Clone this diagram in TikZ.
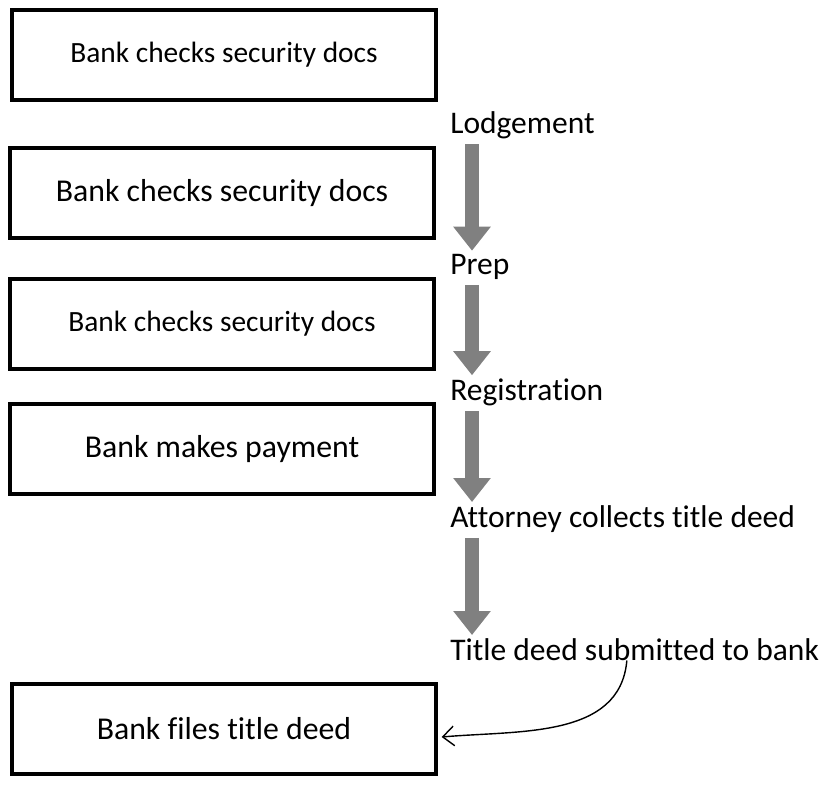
\documentclass[tikz,border=0pt]{standalone}
\usepackage{fontspec}
\setmainfont{Carlito}[Ligatures={NoCommon}]
\usetikzlibrary{positioning,arrows.meta,calc}
\definecolor{bgray}{RGB}{128,128,128}
\tikzset{
  bbox/.style={draw,line width=2.3pt,minimum width=10.6cm,minimum height=2.25cm,inner sep=0pt,font=\fontsize{#1}{26}\selectfont},
  lbl/.style={anchor=base west,inner sep=0pt,font=\fontsize{22.4}{26}\selectfont},
  flow/.style={bgray,line width=0.35cm,-{Triangle[width=0.9cm,length=0.6cm]},shorten <=4pt,shorten >=2pt}
}
\begin{document}
\begin{tikzpicture}[x=0.025cm,y=-0.025cm]
    \useasboundingbox (0,0) rectangle (827,789);
    % bank side
    \node[bbox=20.9] (chk1) at (224,55) {Bank checks security docs};
    \node[bbox=22.6] (chk2) at (222,193) {Bank checks security docs};
    \node[bbox=20.9] (chk3) at (222,324) {Bank checks security docs};
    \node[bbox=22.6] (pay) at (222,449) {Bank makes payment};
    \node[bbox=22.6] (files) at (224,729) {Bank files title deed};
    % attorney steps
    \coordinate (ax) at (472,0);
    \node[lbl] (lodge) at (450,133) {Lodgement};
    \node[lbl] (prep) at (450,274) {Prep};
    \node[lbl] (reg) at (450,400) {Registration};
    \node[lbl] (coll) at (450,527) {Attorney collects title deed};
    \node[lbl] (subm) at (450,660) {Title deed submitted to bank};
    \draw[flow] (lodge.south -| ax) -- (prep.north -| ax);
    \draw[flow] (prep.south -| ax) -- (reg.north -| ax);
    \draw[flow] (reg.south -| ax) -- (coll.north -| ax);
    \draw[flow] (coll.south -| ax) -- (subm.north -| ax);
    \draw[line width=1pt,-{Straight Barb[length=8pt,width=14pt]}] ([xshift=4.42cm]subm.south west) to[out=-95,in=5] ([xshift=0.1cm,yshift=-0.2cm]files.east);
\end{tikzpicture}
\end{document}
